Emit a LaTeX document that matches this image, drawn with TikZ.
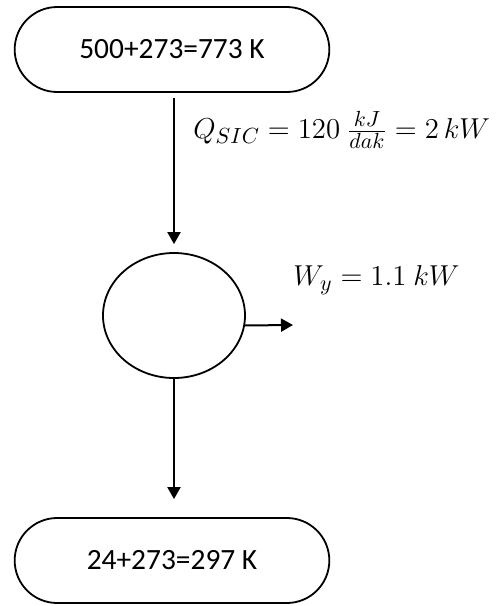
\documentclass[tikz,border=0pt]{standalone}
\usepackage{fontspec}
\setmainfont{Carlito}
\usetikzlibrary{arrows.meta,shapes.geometric,shapes.misc}

\begin{document}
\begin{tikzpicture}[x=0.5pt, y=-0.5pt, >={Triangle[length=6pt,width=6.5pt]}]
	
	% Kiểu dáng cho các khối
	\tikzset{
		tempBox/.style={draw, line width=0.9pt, rounded rectangle, minimum width=164pt, minimum height=42.5pt, font=\fontsize{14.7}{17}\selectfont},
		engineBox/.style={draw, line width=0.9pt, ellipse, minimum width=71pt, minimum height=62.5pt},
		flow/.style={->, line width=1pt},
		valueText/.style={anchor=west, inner sep=0pt, font=\fontsize{15.2}{17}\selectfont}
	}
	
	% Khung ảnh
	\useasboundingbox (0,0) rectangle (496,606);
	
	% Hai nguồn nhiệt (trên, dưới) và động cơ ở giữa
	\node[tempBox] (hot) at (172,49.5) {500+273=773 K};
	\node[engineBox] (engine) at (174,315.5) {};
	\node[tempBox] (cold) at (172,560.5) {24+273=297 K};
	
	% Điểm cuối của mũi tên công
	\coordinate (workEnd) at (293,325);
	
	% Các mũi tên dòng năng lượng
	\draw[flow, shorten <=2.5pt, shorten >=4pt] (engine.north |- hot.south) -- (engine.north);
	\draw[flow, shorten >=9pt] (engine.south) -- (engine.south |- cold.north);
	\draw[flow] (engine.-8) -- (workEnd);
	
	% Các giá trị
	\node[valueText] (heatIn) at (193,130) {$Q_{SIC} = 120\ \frac{kJ}{dak} = 2\,kW$};
	\node[valueText] (workOut) at (293,280) {$W_y = 1.1\ kW$};
	
\end{tikzpicture}
\end{document}
